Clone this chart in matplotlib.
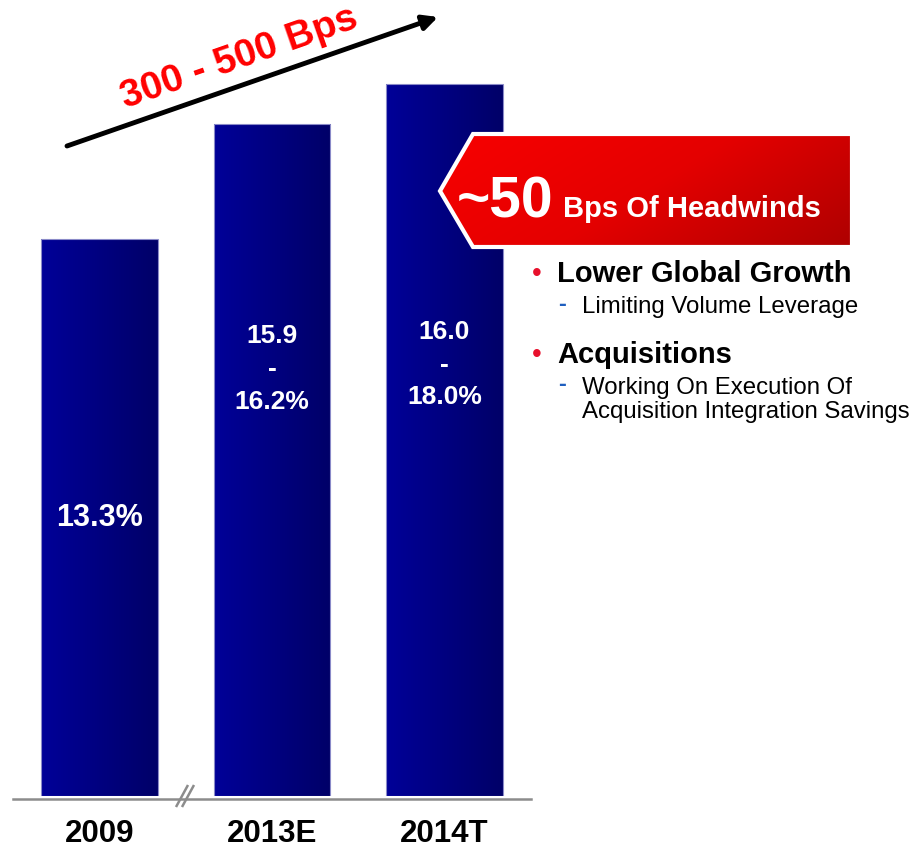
import numpy as np
import matplotlib.pyplot as plt
from matplotlib.patches import Polygon
from matplotlib.colors import LinearSegmentedColormap
import matplotlib.transforms as mtransforms

plt.rcParams['font.family'] = ['Liberation Sans', 'DejaVu Sans']

# data
years = ['2009', '2013E', '2014T']
margin_low = [13.3, 15.9, 16.0]
margin_high = [13.3, 16.2, 18.0]
value_labels = ['13.3%', '15.9\n-\n16.2%', '16.0\n-\n18.0%']
label_y = [6.64, 10.2, 10.3]
label_size = [22, 19, 19]
heights = [(a + b) / 2 for a, b in zip(margin_low, margin_high)]

bullets = ['Lower Global Growth', 'Acquisitions']
sub_points = ['Limiting Volume Leverage',
              'Working On Execution Of\nAcquisition Integration Savings']

W, H = 921, 851
fig = plt.figure(figsize=(W / 100, H / 100), dpi=100)

# bar axes, pixel box 13..531 wide, baseline at y=796
px_per_unit = 41.86
ax = fig.add_axes([13 / W, (H - 796) / H, 518 / W, 19 * px_per_unit / H])
xpos = np.arange(len(years))
bars = ax.bar(xpos, heights, width=0.678, facecolor='none',
              edgecolor='#8a8ac8', linewidth=0.8, zorder=3)

blue_cmap = LinearSegmentedColormap.from_list('bar', ['#000098', '#000068'])
grad = np.linspace(0, 1, 256).reshape(1, -1)
for b in bars:
    x0, w, h = b.get_x(), b.get_width(), b.get_height()
    im = ax.imshow(grad, extent=[x0, x0 + w, 0, h], aspect='auto',
                   cmap=blue_cmap, zorder=2, interpolation='bicubic')
    im.set_clip_path(b)

xmin = -(99.5 - 13) / 172.5
ax.set_xlim(xmin, xmin + 518 / 172.5)
ax.set_ylim(0, 19)
for s in ['top', 'left', 'right']:
    ax.spines[s].set_visible(False)
ax.spines['bottom'].set_color('#8c8c8c')
ax.spines['bottom'].set_linewidth(1.8)
ax.spines['bottom'].set_position(('outward', 2.2))
ax.set_xticks([])
ax.set_yticks([])
ax.patch.set_alpha(0)

for x, lab, y, fs in zip(xpos, value_labels, label_y, label_size):
    ax.text(x, y, lab, color='white', fontsize=fs, fontweight='bold',
            ha='center', va='center', linespacing=1.45, zorder=5)

trans = mtransforms.blended_transform_factory(ax.transData, ax.transAxes)
for x, yr in zip(xpos, years):
    ax.text(x, -38 / (19 * px_per_unit), yr, transform=trans, fontsize=22.5,
            fontweight='bold', ha='center', va='center', clip_on=False)

# overlay in pixel coordinates for the annotations
ov = fig.add_axes([0, 0, 1, 1])
ov.set_xlim(0, W)
ov.set_ylim(H, 0)
ov.axis('off')
ov.patch.set_alpha(0)

# axis break marks
for dx in (0, 6):
    ov.plot([176 + dx, 188 + dx], [807, 785], color='#8c8c8c', lw=1.8,
            solid_capstyle='butt')

# growth arrow
ov.annotate('', xy=(438, 17), xytext=(67, 146),
            arrowprops=dict(arrowstyle='-|>', lw=3.5, color='black',
                            mutation_scale=22, shrinkA=0, shrinkB=0))
ov.text(239, 58, '300 - 500 Bps', color='#ff0000', fontsize=28,
        fontweight='bold', rotation=19.2, ha='center', va='center',
        rotation_mode='anchor')

# headwinds banner
pts = [(440, 191), (473, 134), (852, 134), (852, 247), (473, 247)]
banner = Polygon(pts, closed=True, facecolor='none', edgecolor='white',
                 lw=3, zorder=3, joinstyle='miter')
ov.add_patch(banner)
red_cmap = LinearSegmentedColormap.from_list('banner', ['#f80000', '#e40000', '#ae0000'])
gx, gy = np.meshgrid(np.linspace(0, 1, 200), np.linspace(0, 1, 60))
rg = (gx * 0.8 + gy * 0.35) / 1.15
im = ov.imshow(rg, extent=[440, 852, 247, 134], aspect='auto', cmap=red_cmap,
               zorder=2, interpolation='bicubic')
im.set_clip_path(banner)
ov.set_xlim(0, W)
ov.set_ylim(H, 0)

ov.text(457, 217, '~50', color='white', fontsize=41, fontweight='bold',
        ha='left', va='baseline', zorder=4)
ov.text(563, 217, 'Bps Of Headwinds', color='white', fontsize=21,
        fontweight='bold', ha='left', va='baseline', zorder=4)

# bullet list
bullet_y = [274, 355]
sub_y = [307, 400]
for txt, by, sub, sy in zip(bullets, bullet_y, sub_points, sub_y):
    ov.text(537, by, '\u2022', color='#e8102c', fontsize=20, ha='center',
            va='center')
    ov.text(557, by, txt, fontsize=21, fontweight='bold', ha='left',
            va='center')
    top = sy - (13 if '\n' in sub else 0)
    ov.text(562, top - 3, '-', color='#1f5fbf', fontsize=17, fontweight='bold',
            ha='center', va='center')
    ov.text(582, sy, sub, fontsize=17.3, ha='left', va='center',
            linespacing=1.15)

fig.savefig('out.png', dpi=100)
